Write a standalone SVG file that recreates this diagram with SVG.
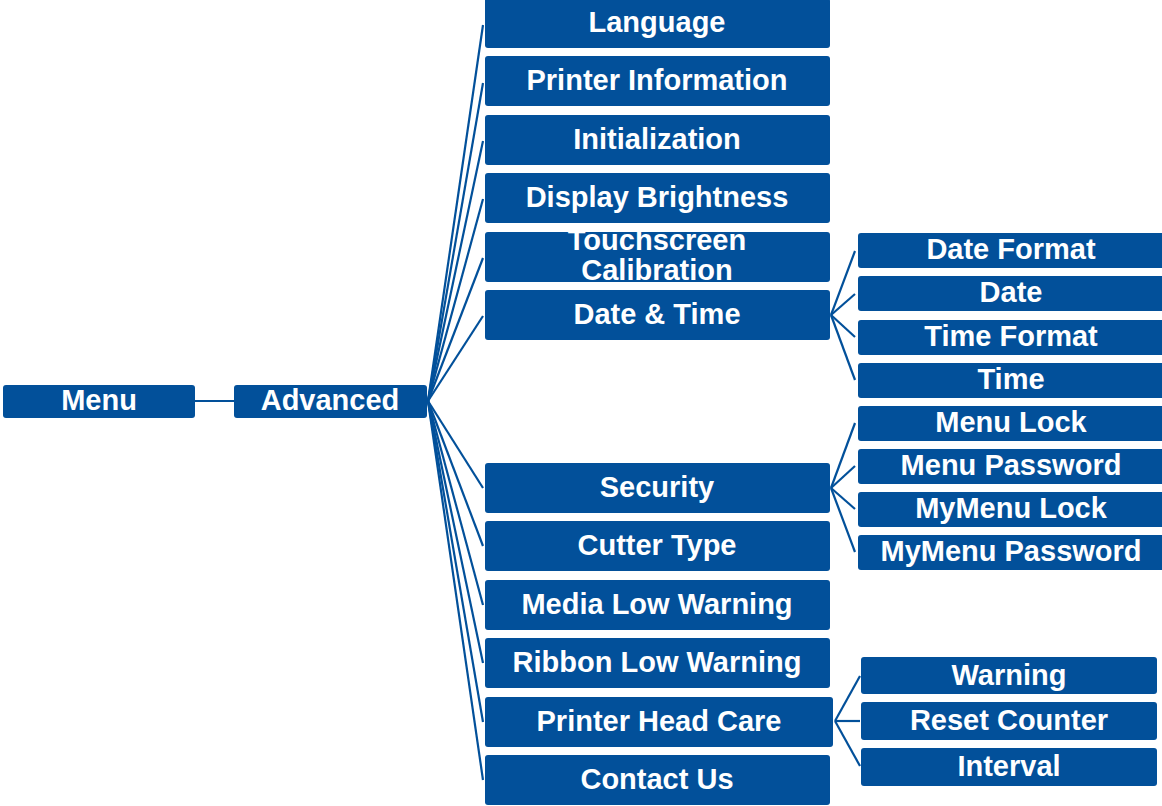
<svg xmlns="http://www.w3.org/2000/svg" width="1162" height="806" viewBox="0 0 1162 806">
<style>
.b{fill:#02509A}
.t{fill:#fff;font-family:"Liberation Sans",Arial,sans-serif;font-weight:bold;font-size:29px;text-anchor:middle}
.c line{stroke:#02509A;stroke-width:2.2}
</style>
<rect width="1162" height="806" fill="#fff"/>
<g class="c" id="connectors">
<line x1="195" y1="401" x2="234" y2="401"/>
<line x1="428" y1="401" x2="483" y2="25"/>
<line x1="428" y1="401" x2="483" y2="83"/>
<line x1="428" y1="401" x2="483" y2="141"/>
<line x1="428" y1="401" x2="483" y2="199"/>
<line x1="428" y1="401" x2="483" y2="258"/>
<line x1="428" y1="401" x2="483" y2="316"/>
<line x1="428" y1="401" x2="483" y2="488"/>
<line x1="428" y1="401" x2="483" y2="546"/>
<line x1="428" y1="401" x2="483" y2="605"/>
<line x1="428" y1="401" x2="483" y2="663"/>
<line x1="428" y1="401" x2="483" y2="722"/>
<line x1="428" y1="401" x2="483" y2="780"/>
<line x1="831" y1="315" x2="855" y2="251"/>
<line x1="831" y1="315" x2="855" y2="294"/>
<line x1="831" y1="315" x2="855" y2="337"/>
<line x1="831" y1="315" x2="855" y2="380"/>
<line x1="831" y1="488" x2="855" y2="423"/>
<line x1="831" y1="488" x2="855" y2="466"/>
<line x1="831" y1="488" x2="855" y2="509"/>
<line x1="831" y1="488" x2="855" y2="552"/>
<line x1="835" y1="721" x2="860" y2="676"/>
<line x1="835" y1="721" x2="860" y2="721"/>
<line x1="835" y1="721" x2="860" y2="766"/>
</g>
<g id="menu"><rect class="b" x="3" y="385" width="192" height="33" rx="3"/><text class="t" x="99" y="410">Menu</text></g>
<g id="advanced"><rect class="b" x="234" y="385" width="193" height="33" rx="3"/><text class="t" x="330" y="410">Advanced</text></g>
<g id="language"><rect class="b" x="485" y="-2" width="345" height="50" rx="3"/><text class="t" x="657" y="32">Language</text></g>
<g id="printer-information"><rect class="b" x="485" y="56" width="345" height="50" rx="3"/><text class="t" x="657" y="90">Printer Information</text></g>
<g id="initialization"><rect class="b" x="485" y="115" width="345" height="50" rx="3"/><text class="t" x="657" y="149">Initialization</text></g>
<g id="display-brightness"><rect class="b" x="485" y="173" width="345" height="50" rx="3"/><text class="t" x="657" y="207">Display Brightness</text></g>
<g id="touchscreen"><rect class="b" x="485" y="232" width="345" height="50" rx="3"/><text class="t" x="657" y="250">Touchscreen</text><text class="t" x="657" y="280">Calibration</text></g>
<g id="date-time"><rect class="b" x="485" y="290" width="345" height="50" rx="3"/><text class="t" x="657" y="324">Date &amp; Time</text></g>
<g id="security"><rect class="b" x="485" y="463" width="345" height="50" rx="3"/><text class="t" x="657" y="497">Security</text></g>
<g id="cutter-type"><rect class="b" x="485" y="521" width="345" height="50" rx="3"/><text class="t" x="657" y="555">Cutter Type</text></g>
<g id="media-low"><rect class="b" x="485" y="580" width="345" height="50" rx="3"/><text class="t" x="657" y="614">Media Low Warning</text></g>
<g id="ribbon-low"><rect class="b" x="485" y="638" width="345" height="50" rx="3"/><text class="t" x="657" y="672">Ribbon Low Warning</text></g>
<g id="printer-head-care"><rect class="b" x="485" y="697" width="348" height="50" rx="3"/><text class="t" x="659" y="731">Printer Head Care</text></g>
<g id="contact-us"><rect class="b" x="485" y="755" width="345" height="50" rx="3"/><text class="t" x="657" y="789">Contact Us</text></g>
<g id="date-format"><rect class="b" x="858" y="233" width="306" height="35" rx="3"/><text class="t" x="1011" y="259">Date Format</text></g>
<g id="date"><rect class="b" x="858" y="276" width="306" height="35" rx="3"/><text class="t" x="1011" y="302">Date</text></g>
<g id="time-format"><rect class="b" x="858" y="320" width="306" height="35" rx="3"/><text class="t" x="1011" y="346">Time Format</text></g>
<g id="time"><rect class="b" x="858" y="363" width="306" height="35" rx="3"/><text class="t" x="1011" y="389">Time</text></g>
<g id="menu-lock"><rect class="b" x="858" y="406" width="306" height="35" rx="3"/><text class="t" x="1011" y="432">Menu Lock</text></g>
<g id="menu-password"><rect class="b" x="858" y="449" width="306" height="35" rx="3"/><text class="t" x="1011" y="475">Menu Password</text></g>
<g id="mymenu-lock"><rect class="b" x="858" y="492" width="306" height="35" rx="3"/><text class="t" x="1011" y="518">MyMenu Lock</text></g>
<g id="mymenu-password"><rect class="b" x="858" y="535" width="306" height="35" rx="3"/><text class="t" x="1011" y="561">MyMenu Password</text></g>
<g id="warning"><rect class="b" x="861" y="657" width="296" height="37" rx="3"/><text class="t" x="1009" y="685">Warning</text></g>
<g id="reset-counter"><rect class="b" x="861" y="702" width="296" height="38" rx="3"/><text class="t" x="1009" y="730">Reset Counter</text></g>
<g id="interval"><rect class="b" x="861" y="748" width="296" height="38" rx="3"/><text class="t" x="1009" y="776">Interval</text></g>
</svg>
